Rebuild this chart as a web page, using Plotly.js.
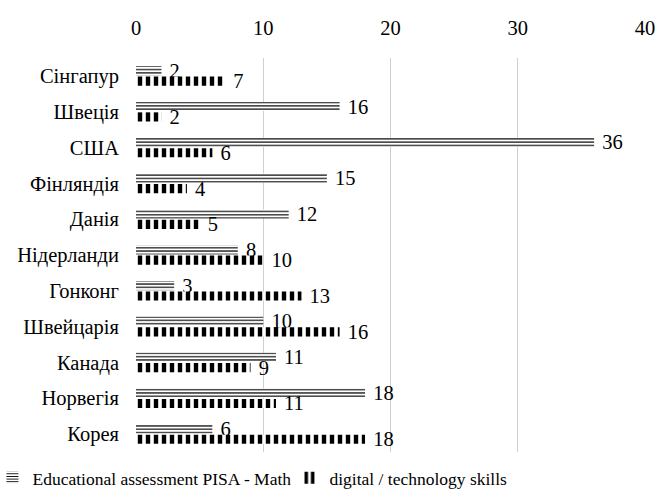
<!DOCTYPE html>
<html><head><meta charset="utf-8">
<script src="https://cdn.plot.ly/plotly-3.0.1.min.js"></script>
<style>html,body{margin:0;padding:0;background:#fff}#chart{width:659px;height:491px}</style>
</head><body><div id="chart"></div>
<script>
const categories = ["Сінгапур","Швеція","США","Фінляндія","Данія","Нідерланди","Гонконг","Швейцарія","Канада","Норвегія","Корея"];
const pisaMath = [2,16,36,15,12,8,3,10,11,18,6];
const digitalSkills = [7,2,6,4,5,10,13,16,9,11,18];
const seriesNames = ["Educational assessment PISA - Math","digital / technology skills"];
const xTicks = [0,10,20,30,40];

const font = {family:"Liberation Serif, Times New Roman, serif", size:20.5, color:"#000"};
const traces = [
  {type:"bar", orientation:"h", name:seriesNames[0], y:categories, x:pisaMath,
   texttemplate:"\u00a0%{x}", textposition:"outside", cliponaxis:false, constraintext:"none",
   textfont:font, outsidetextfont:font,
   marker:{color:"#fff", line:{width:0}, pattern:{shape:"-", fgcolor:"#000", bgcolor:"#fff", size:3.3, solidity:0.35}}},
  {type:"bar", orientation:"h", name:seriesNames[1], y:categories, x:digitalSkills,
   texttemplate:"\u00a0%{x}", textposition:"outside", cliponaxis:false, constraintext:"none",
   textfont:font, outsidetextfont:font,
   marker:{color:"#fff", line:{width:0}, pattern:{shape:"|", fgcolor:"#000", bgcolor:"#fff", size:8, solidity:0.55}}}
];
const layout = {
  width:659, height:491,
  margin:{l:136, r:14, t:58, b:39, autoexpand:false},
  paper_bgcolor:"#fff", plot_bgcolor:"#fff",
  font:font,
  barmode:"group", bargap:0.42, bargroupgap:0.12,
  showlegend:true,
  legend:{orientation:"h", x:-0.282, xanchor:"left", y:-0.02, yanchor:"top",
          font:{family:font.family, size:17.5, color:"#000"}, itemwidth:30, traceorder:"normal",
          entrywidth:252, entrywidthmode:"pixels"},
  xaxis:{side:"top", range:[0,40], tickvals:xTicks, showgrid:true, gridcolor:"#cfcfcf", gridwidth:1,
         zeroline:false, showline:false, ticks:"", ticklabelstandoff:18, tickfont:font, automargin:false},
  yaxis:{autorange:"reversed", type:"category", showgrid:false, zeroline:false, showline:false, ticks:"", ticklabelstandoff:16, tickfont:font, automargin:false}
};
Plotly.newPlot("chart", traces, layout, {displayModeBar:false, staticPlot:true});
</script></body></html>
